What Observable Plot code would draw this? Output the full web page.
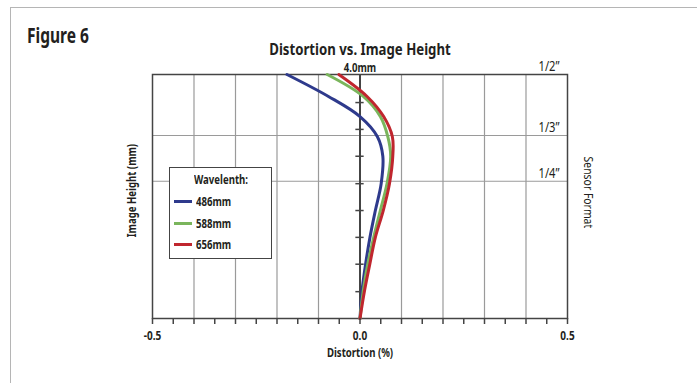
<!DOCTYPE html>
<html><head><meta charset="utf-8">
<script src="https://cdn.jsdelivr.net/npm/d3@7"></script>
<script src="https://cdn.jsdelivr.net/npm/@observablehq/plot@0.6"></script>
<style>
body{margin:0;background:#fff;}
#wrap{position:relative;width:697px;height:383px;overflow:hidden;font-family:"Noto Sans",sans-serif;color:#231f20;}
#border{position:absolute;left:10px;top:7px;width:700px;height:400px;border:1px solid #b5b5b5;}
#fig{position:absolute;left:27px;top:21px;font-weight:bold;font-size:21px;transform:scaleX(0.74);transform-origin:left center;}
#legend{position:absolute;left:169px;top:167px;width:103px;height:92px;border:1px solid #444;background:#fff;box-sizing:border-box;font-weight:bold;font-size:12px;}
#legend .t{margin-top:3px;margin-left:24px;transform:scaleX(0.8);transform-origin:left center;}
#legend .rows{padding-top:3px;}
#legend .r{display:flex;align-items:center;height:21.5px;margin-left:4px;}
#legend .s{width:18px;height:3px;margin-right:4px;}
#legend .l{transform:scaleX(0.8);transform-origin:left center;}
svg{position:absolute;left:0;top:0;}
</style></head>
<body><div id="wrap"><div id="border"></div><div id="fig">Figure 6</div></div>
<script>
const seriesNames = ["486mm", "588mm", "656mm"];
const seriesColors = ["#2e3a8c", "#7ab55c", "#c0262e"];
const heights = [0, 0.46, 0.87, 1.33, 1.77, 2.21, 2.66, 2.98, 3.31, 3.64, 4.0];
const blue  = [0, 0.005, 0.013, 0.024, 0.037, 0.051, 0.055, 0.042, 0.0, -0.076, -0.176];
const green = [0, 0.008, 0.018, 0.033, 0.049, 0.065, 0.074, 0.067, 0.049, 0.008, -0.079];
const red   = [0, 0.011, 0.023, 0.037, 0.056, 0.071, 0.079, 0.078, 0.057, 0.017, -0.051];
const xTicks = d3.range(-0.5, 0.5001, 0.05).map(v => +v.toFixed(2));
const xLabelTicks = [-0.5, 0, 0.5];
const xGrid = [-0.4, -0.3, -0.2, -0.1, 0.1, 0.2, 0.3, 0.4];
const sensorFormats = ["1/2\u201d", "1/3\u201d", "1/4\u201d"];
const sensorHeights = [4.0, 3.0, 2.25];
const yTicks = [0.44, 0.89, 1.33, 1.77, 2.21, 2.66, 3.10, 3.54];

const allSeries = [blue, green, red];
const data = [];
allSeries.forEach((s, i) => s.forEach((v, j) => data.push({name: seriesNames[i], x: v, y: heights[j]})));
const sensors = sensorFormats.map((f, i) => ({f, y: sensorHeights[i]}));
const ink = "#231f20";
const font = "Noto Sans";

const chart = Plot.plot({
  width: 697, height: 383,
  marginLeft: 152, marginRight: 130, marginTop: 74, marginBottom: 65,
  style: {fontFamily: font, color: ink, background: "transparent"},
  x: {type: "linear", domain: [-0.5, 0.5], axis: null},
  y: {type: "linear", domain: [0, 4], axis: null},
  color: {domain: seriesNames, range: seriesColors},
  marks: [
    Plot.ruleX(xGrid, {stroke: "#9a9a9a", strokeWidth: 1.2}),
    Plot.ruleY(sensorHeights.slice(1), {stroke: "#9a9a9a", strokeWidth: 1.2}),
    Plot.frame({stroke: "#444", strokeWidth: 1.5}),
    Plot.ruleX([0], {stroke: "#444", strokeWidth: 2}),
    Plot.ruleY(yTicks, {x1: -0.01, x2: 0.01, stroke: "#444", strokeWidth: 1.5}),
    Plot.line(data, {x: "x", y: "y", z: "name", stroke: "name", strokeWidth: 3, curve: "catmull-rom"}),
    Plot.axisX(xTicks, {tickSize: 6, tickFormat: () => "", stroke: "#444", strokeWidth: 1.5, label: null}),
    Plot.axisX(xLabelTicks, {tickSize: 0, tickPadding: 13, tickFormat: d => d.toFixed(1), fontSize: 12.5, fontWeight: "bold", label: null}),
    Plot.text(["Distortion (%)"], {frameAnchor: "bottom", dy: 38, fontSize: 12, fontWeight: "bold"}),
    Plot.text(["Distortion vs. Image Height"], {frameAnchor: "top", dy: -31, fontSize: 16.5, fontWeight: "bold"}),
    Plot.text(["4.0mm"], {x: 0, y: 4, dy: -6, fontSize: 12, fontWeight: "bold"}),
    Plot.text(sensors, {x: 0.5, y: "y", text: "f", textAnchor: "end", dx: -8, dy: -8, fontSize: 14}),
    Plot.text(["Image Height (mm)"], {frameAnchor: "left", dx: -20, dy: -6, rotate: -90, fontSize: 12, fontWeight: "bold"}),
    Plot.text(["Sensor Format"], {frameAnchor: "right", dx: 21, dy: -4, rotate: 90, fontSize: 13})
  ]
});
const wrap = document.getElementById("wrap");
wrap.appendChild(chart);
// condense SVG text glyphs horizontally (reference uses a condensed face)
chart.querySelectorAll("text").forEach(t => {
  const len = t.getComputedTextLength();
  if (len > 0) {
    t.setAttribute("textLength", (len * 0.8).toFixed(1));
    t.setAttribute("lengthAdjust", "spacingAndGlyphs");
    const tr = t.getAttribute("transform") || "";
    if (tr.includes("rotate")) {
      const b = t.getBBox();
      const x0 = +(t.getAttribute("x") || 0);
      t.setAttribute("x", (x0 - (b.x + b.width / 2)).toFixed(1));
    }
  }
});
const lg = document.createElement("div");
lg.id = "legend";
lg.innerHTML = `<div class="t">Wavelenth:</div><div class="rows">` + seriesNames.map((n, i) =>
  `<div class="r"><div class="s" style="background:${seriesColors[i]}"></div><span class="l">${n}</span></div>`).join("") + `</div>`;
wrap.appendChild(lg);
</script></body></html>
